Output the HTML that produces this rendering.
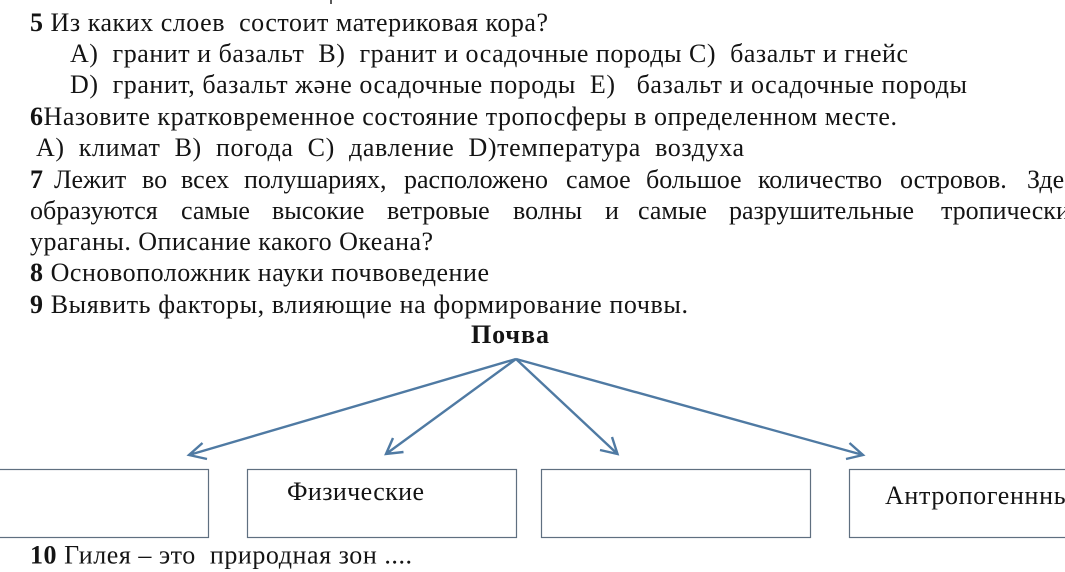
<!DOCTYPE html>
<html lang="ru">
<head>
<meta charset="utf-8">
<title>Почва</title>
<style>
html,body{margin:0;padding:0;background:#fff;width:1065px;height:572px;overflow:hidden}
svg{display:block}
text{font-family:"Liberation Serif",serif;font-size:26px;fill:#141414;white-space:pre}
.b{font-weight:bold}
.box{fill:#fff;stroke:#5f6f80;stroke-width:1.2}
.arr{fill:none;stroke:#4f7aa3;stroke-width:2.4}
</style>
</head>
<body>
<svg width="1065" height="572" viewBox="0 0 1065 572" xmlns="http://www.w3.org/2000/svg">
<rect width="1065" height="572" fill="#fff"/>
<line x1="331" y1="0" x2="331" y2="4" stroke="#222" stroke-width="1.5"/>

<text x="30" y="31" textLength="518"><tspan class="b">5</tspan> Из каких слоев  состоит материковая кора?</text>
<text x="70" y="62" textLength="838">A)  гранит и базальт  B)  гранит и осадочные породы C)  базальт и гнейс</text>
<text x="70" y="93" textLength="897">D)  гранит, базальт және осадочные породы  E)   базальт и осадочные породы</text>
<text x="30" y="125" textLength="867"><tspan class="b">6</tspan>Назовите кратковременное состояние тропосферы в определенном месте.</text>
<text x="36" y="156" textLength="708">A)  климат  B)  погода  C)  давление  D)температура  воздуха</text>

<text y="188"><tspan class="b" x="30">7</tspan><tspan x="54">Лежит</tspan><tspan x="142">во</tspan><tspan x="181">всех</tspan><tspan x="244">полушариях,</tspan><tspan x="404">расположено</tspan><tspan x="566">самое</tspan><tspan x="646">большое</tspan><tspan x="758">количество</tspan><tspan x="900">островов.</tspan><tspan x="1027">Здесь</tspan></text>
<text y="219"><tspan x="30">образуются</tspan><tspan x="181">самые</tspan><tspan x="272">высокие</tspan><tspan x="387">ветровые</tspan><tspan x="513">волны</tspan><tspan x="605">и</tspan><tspan x="638">самые</tspan><tspan x="729">разрушительные</tspan><tspan x="941">тропические</tspan></text>
<text x="30" y="250" textLength="403">ураганы. Описание какого Океана?</text>
<text x="30" y="281" textLength="459"><tspan class="b">8</tspan> Основоположник науки почвоведение</text>
<text x="30" y="313" textLength="658"><tspan class="b">9</tspan> Выявить факторы, влияющие на формирование почвы.</text>
<text x="471" y="343" class="b" textLength="78">Почва</text>

<rect class="box" x="-5" y="469.5" width="213.5" height="68"/>
<rect class="box" x="247.5" y="469.5" width="269" height="68"/>
<rect class="box" x="541.5" y="469.5" width="269" height="68"/>
<rect class="box" x="849.5" y="469.5" width="225" height="68"/>

<g class="arr">
<path d="M516 359L189 455M202.500 443L189 455L207 459"/>
<path d="M516 359L386 454M393 438L386 454L403.500 452"/>
<path d="M516 359L617.500 454M612 437L617.500 454L600 450"/>
<path d="M516 359L863 455M849.500 443L863 455L846 459"/>
</g>

<text x="287" y="500" textLength="137">Физические</text>
<text x="885" y="504" style="letter-spacing:.65px">Антропогеннные</text>
<text x="30" y="563.500" textLength="382"><tspan class="b">10</tspan> Гилея – это  природная зон ....</text>
</svg>
</body>
</html>
